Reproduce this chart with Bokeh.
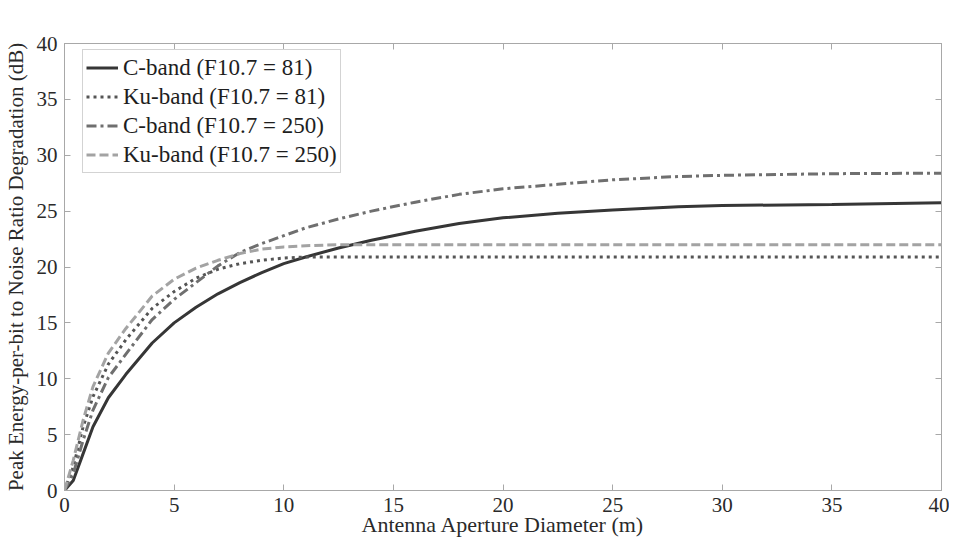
from bokeh.plotting import figure
from bokeh.models import Range1d, LinearAxis, SingleIntervalTicker, Legend, LegendItem, CustomLabelingPolicy
from bokeh.embed import file_html
from bokeh.resources import INLINE

# Antenna aperture diameter (m)
diameter = [0, 0.4, 0.85, 1.3, 2, 2.8, 4, 5, 6, 7, 8, 9, 10, 11, 12.5, 14, 16, 18, 20, 22.5, 25, 28, 30, 35, 40]
# Peak Eb/N0 degradation (dB)
c_band_81 = [0, 0.9, 3.3, 5.7, 8.3, 10.4, 13.2, 15.0, 16.4, 17.6, 18.6, 19.5, 20.3, 20.9, 21.7, 22.4, 23.2, 23.9, 24.4, 24.8, 25.1, 25.4, 25.5, 25.6, 25.75]
ku_band_81 = [0, 2.1, 5.7, 8.4, 11.3, 13.5, 16.3, 17.8, 19.0, 19.8, 20.3, 20.6, 20.8, 20.9, 20.9, 20.9, 20.9, 20.9, 20.9, 20.9, 20.9, 20.9, 20.9, 20.9, 20.9]
c_band_250 = [0, 1.5, 4.5, 7.2, 10.1, 12.2, 15.3, 17.1, 18.6, 20.1, 21.3, 22.1, 22.8, 23.5, 24.3, 25.0, 25.8, 26.5, 27.0, 27.4, 27.8, 28.1, 28.2, 28.35, 28.4]
ku_band_250 = [0, 2.7, 6.3, 9.3, 12.3, 14.5, 17.4, 18.9, 19.9, 20.6, 21.2, 21.6, 21.8, 21.9, 22.0, 22.0, 22.0, 22.0, 22.0, 22.0, 22.0, 22.0, 22.0, 22.0, 22.0]

labels = ["C-band (F10.7 = 81)", "Ku-band (F10.7 = 81)", "C-band (F10.7 = 250)", "Ku-band (F10.7 = 250)"]
colors = ["#363636", "#555555", "#6f6f6f", "#a3a3a3"]
dashes = ["solid", "3 4", "10 4 3 4", "9 4"]
series = [c_band_81, ku_band_81, c_band_250, ku_band_250]

FONT = "Liberation Serif"
GRID = "#a8a8a8"

p = figure(frame_width=877, frame_height=447, output_backend="svg", toolbar_location=None,
           x_range=Range1d(0, 40), y_range=Range1d(0, 40),
           min_border_left=57, min_border_right=4, min_border_top=43, min_border_bottom=40,
           x_axis_label="Antenna Aperture Diameter (m)",
           y_axis_label="Peak Energy-per-bit to Noise Ratio Degradation (dB)")
p.background_fill_color = "white"
p.border_fill_color = "white"
p.outline_line_color = GRID
p.grid.visible = False

def style_axis(ax, show_labels=True):
    ax.ticker = SingleIntervalTicker(interval=5)
    ax.minor_tick_line_color = None
    ax.major_tick_in = 6
    ax.major_tick_out = 0
    ax.major_tick_line_color = GRID
    ax.axis_line_color = GRID
    ax.major_label_text_font = FONT
    ax.major_label_text_color = "#2a2a2a"
    if show_labels:
        ax.major_label_text_font_size = "21px"
        ax.major_label_standoff = 3
    else:
        ax.major_label_text_font_size = "1px"
        ax.major_label_standoff = 0
        ax.major_label_policy = CustomLabelingPolicy(code="if (false) { yield 0 }")
    ax.axis_label_text_font = FONT
    ax.axis_label_text_font_style = "normal"
    ax.axis_label_text_color = "#2a2a2a"

for ax in p.xaxis:
    style_axis(ax)
    ax.axis_label_text_font_size = "22px"
    ax.axis_label_standoff = -3
for ax in p.yaxis:
    style_axis(ax)
    ax.axis_label_text_font_size = "21px"
    ax.axis_label_standoff = 6

top = LinearAxis()
style_axis(top, False)
p.add_layout(top, "above")
right = LinearAxis()
style_axis(right, False)
p.add_layout(right, "right")

items = []
for lab, col, dash, ys in zip(labels, colors, dashes, series):
    r = p.line(diameter, ys, line_color=col, line_width=3, line_dash=dash)
    items.append(LegendItem(label=lab, renderers=[r]))

legend = Legend(items=items, location=(18, 317))
legend.label_text_font = FONT
legend.label_text_font_size = "23px"
legend.label_text_color = "#1e1e1e"
legend.glyph_width = 32
legend.glyph_height = 29
legend.label_height = 29
legend.spacing = 0
legend.padding = 3
legend.label_standoff = 5
legend.border_line_color = GRID
legend.border_line_width = 1
legend.background_fill_color = "white"
legend.background_fill_alpha = 1
legend.margin = 0
p.add_layout(legend, "center")

open("out.html", "w").write(file_html(p, INLINE))
